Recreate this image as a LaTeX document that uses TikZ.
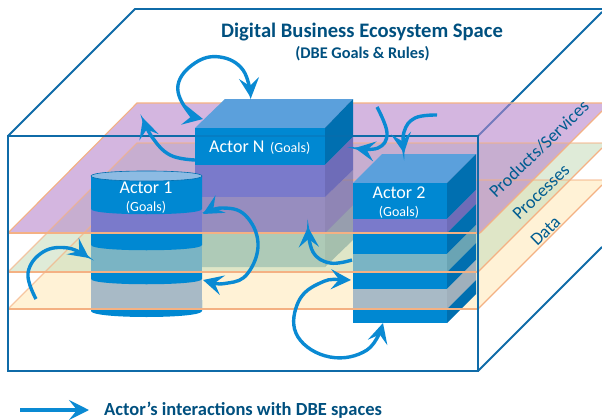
\documentclass[tikz,border=0pt]{standalone}
\usepackage{fontspec}
\setmainfont{Carlito}
\usetikzlibrary{arrows.meta}
\definecolor{framec}{HTML}{0F6BA8}
\definecolor{titlec}{HTML}{00507F}
\definecolor{labelc}{HTML}{005C90}
\definecolor{edgec}{HTML}{F4B183}
\definecolor{blue1}{HTML}{0088D2}
\definecolor{blue2}{HTML}{006FB0}
\definecolor{topc}{HTML}{5BA0DC}
\definecolor{purpc}{HTML}{7A7ACB}
\definecolor{purps}{HTML}{6E6CB8}
\definecolor{tealc}{HTML}{7AB4C4}
\definecolor{teals}{HTML}{6AA4B4}
\definecolor{greyc}{HTML}{A8BAC6}
\definecolor{greys}{HTML}{A0B0BC}
\definecolor{arrowc}{HTML}{0A8AD3}
\tikzset{
  frameline/.style={draw=framec,line width=1.8pt},
  planeedge/.style={draw=edgec,line width=1.1pt},
  flow/.style={draw=arrowc,line width=3.4pt},
  head/.style={-{Stealth[length=20pt,width=20pt,inset=8pt]}},
  both/.style={{Stealth[length=20pt,width=20pt,inset=8pt]}-{Stealth[length=20pt,width=20pt,inset=8pt]}},
  actortxt/.style={text=white,font=\fontsize{18}{18}\selectfont,inner sep=0pt},
  goalstxt/.style={text=white,font=\fontsize{14}{14}\selectfont,inner sep=0pt},
  rotlabel/.style={text=labelc,rotate=44,inner sep=0pt,font=\fontsize{18}{18}\selectfont}
}
\newcommand{\cylband}[3]{\fill[#1] (91,#2) -- (202,#2) -- (202,#3) .. controls (202,#3+7) and (91,#3+7) .. (91,#3) -- cycle;}
\begin{document}
\begin{tikzpicture}[x=1pt,y=-1pt]
\useasboundingbox (0,0) rectangle (602,420);
% back frame
\draw[frameline] (8,136) -- (135,9) -- (602,9);
\draw[frameline] (478,136) -- (602,12);
\draw[frameline] (478,371) -- (602,247);
% planes
\fill[fill={rgb,255:red,255;green,242;blue,214}] (8,309) -- (137,180) -- (602,180) -- (602,185) -- (478,309) -- cycle;
\fill[fill={rgb,255:red,202;green,222;blue,190},fill opacity=.6] (8,272) -- (137,143) -- (602,143) -- (602,148) -- (478,272) -- cycle;
\fill[fill={rgb,255:red,183;green,133;blue,203},fill opacity=.6] (8,233) -- (137,103) -- (602,103) -- (602,111) -- (480,233) -- cycle;
\draw[planeedge,opacity=.7] (8,309) -- (137,180) -- (602,180);
\draw[planeedge,opacity=.7] (8,272) -- (137,143) -- (602,143);
\draw[planeedge] (8,233) -- (137,103) -- (602,103);
\draw[planeedge] (478,309) -- (602,185);
\draw[planeedge] (478,272) -- (602,148);
\draw[planeedge] (480,233) -- (602,111);
% Actor N ghost
\fill[fill={rgb,255:red,80;green,96;blue,176},fill opacity=.4] (195,197) -- (325,197) -- (353,170) -- (353,205) -- (325,233) -- (195,233) -- cycle;
\fill[fill={rgb,255:red,102;green,162;blue,160},fill opacity=.4] (195,233) -- (325,233) -- (353,205) -- (353,240) -- (325,267) -- (195,267) -- cycle;
\fill[fill=black,fill opacity=.05] (325,197) -- (353,170) -- (353,240) -- (325,267) -- cycle;
% Actor N
\fill[topc] (195,128) -- (225,99) -- (353,99) -- (325,128) -- cycle;
\fill[blue1] (195,128) rectangle (325,165);
\fill[purpc] (195,165) rectangle (325,197);
\fill[blue2] (325,128) -- (353,99) -- (353,137) -- (325,165) -- cycle;
\fill[purps] (325,165) -- (353,137) -- (353,170) -- (325,197) -- cycle;
% Actor 1
\fill[blue1] (91,300) -- (202,300) -- (202,311) .. controls (202,319) and (91,319) .. (91,311) -- cycle;
\fill[greyc] (91,275) rectangle (202,309);
\cylband{blue1}{272}{279}
\fill[tealc] (91,240) rectangle (202,272);
\cylband{blue1}{233}{245}
\fill[purpc] (91,205) rectangle (202,233);
\cylband{blue1}{176}{209}
\fill[fill={rgb,255:red,141;green,187;blue,227},draw=blue2,line width=.6pt] (91,176) .. controls (91,169.3) and (202,169.3) .. (202,176) .. controls (202,182.7) and (91,182.7) .. (91,176) -- cycle;
% Actor 2
\fill[topc] (353,183) -- (382,154) -- (476,154) -- (447,183) -- cycle;
\fill[blue1] (353,183) rectangle (447,219);
\fill[purpc] (353,219) rectangle (447,233);
\fill[blue1] (353,233) rectangle (447,254);
\fill[tealc] (353,254) rectangle (447,272);
\fill[blue1] (353,272) rectangle (447,289);
\fill[greyc] (353,289) rectangle (447,309);
\fill[blue1] (353,309) rectangle (447,323);
\fill[blue2] (447,183) -- (476,154) -- (476,190) -- (447,219) -- cycle;
\fill[purps] (447,219) -- (476,190) -- (476,204) -- (447,233) -- cycle;
\fill[blue2] (447,233) -- (476,204) -- (476,225) -- (447,254) -- cycle;
\fill[teals] (447,254) -- (476,225) -- (476,243) -- (447,272) -- cycle;
\fill[blue2] (447,272) -- (476,243) -- (476,260) -- (447,289) -- cycle;
\fill[greys] (447,289) -- (476,260) -- (476,280) -- (447,309) -- cycle;
\fill[blue2] (447,309) -- (476,280) -- (476,294) -- (447,323) -- cycle;
% front plane edges over the actors
\draw[planeedge] (8,233) -- (480,233);
\draw[planeedge] (8,272) -- (478,272);
\draw[planeedge] (8,309) -- (478,309);
% front frame
\draw[frameline,draw opacity=.35] (195,136) -- (353,136);
\draw[frameline] (195,136) -- (8,136) -- (8,371) -- (478,371) -- (478,136) -- (353,136);
% texts
\node[inner sep=0pt,text=titlec,font=\fontsize{20.6}{21}\selectfont\bfseries] (title) at (362,32) {Digital Business Ecosystem Space};
\node[inner sep=0pt,text=titlec,font=\fontsize{16.3}{17}\selectfont\bfseries] (sub) at (362.5,54) {(DBE Goals \& Rules)};
\node[actortxt,anchor=base west] (an) at (209,152) {Actor N};
\node[goalstxt,anchor=base west] (ang) at (270,152) {(Goals)};
\node[actortxt] (a1) at (146,188) {Actor 1};
\node[goalstxt] (a1g) at (146,207) {(Goals)};
\node[actortxt] (a2) at (399,193) {Actor 2};
\node[goalstxt] (a2g) at (399,212) {(Goals)};
\node[rotlabel] (ps) at (539,149) {Products/Services};
\node[rotlabel] (pr) at (541,192) {Processes};
\node[rotlabel] (da) at (545.5,231) {Data};
% arrows
\draw[flow,both] plot[smooth,tension=.7] coordinates {(203,119) (187,110) (178,85) (195,63) (220,57) (243,70) (251,98)};
\draw[flow,head] plot[smooth,tension=.7] coordinates {(195,160) (170,155) (152,137) (143,118)};
\draw[flow,head] plot[smooth,tension=.7] coordinates {(377,107) (387,133) (378,148) (355,148)};
\draw[flow,head] plot[smooth,tension=.7] coordinates {(437,115) (415,118) (404,132) (404,153)};
\draw[flow,both] plot[smooth,tension=.7] coordinates {(203,280) (228,283) (248,273) (258,243) (245,215) (222,208) (203,214)};
\draw[flow,head] plot[smooth,tension=.7] coordinates {(36,299) (28,273) (43,252) (68,248) (89,258)};
\draw[flow,head] plot[smooth,tension=.7] coordinates {(352,260) (330,263) (313,252) (308,227)};
\draw[flow,both] plot[smooth,tension=.7] coordinates {(351,280) (318,284) (297,305) (298,337) (330,357) (367,350) (383,323)};
% legend
\coordinate (ls) at (20,410);
\coordinate (le) at (89,410);
\draw[flow,head] (ls) -- (le);
\node[inner sep=0pt,anchor=base west,text=titlec,font=\fontsize{18.5}{19}\selectfont\bfseries] (leg) at (104,415) {Actor’s interactions with DBE spaces};
\end{tikzpicture}
\end{document}
